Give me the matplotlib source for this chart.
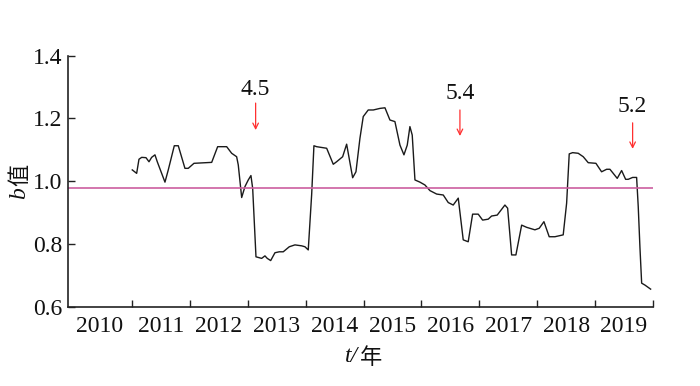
import matplotlib
matplotlib.use("Agg")
import matplotlib.pyplot as plt
import numpy as np

# ---- data ----
t_year = [2011.005, 2011.081, 2011.121, 2011.168, 2011.242, 2011.294, 2011.340, 2011.397,
          2011.437, 2011.570, 2011.627, 2011.731, 2011.800, 2011.915, 2011.972, 2012.071,
          2012.377, 2012.480, 2012.636, 2012.722, 2012.808, 2012.836, 2012.895, 2012.952,
          2013.009, 2013.055, 2013.085, 2013.142, 2013.240, 2013.297, 2013.337, 2013.396,
          2013.470, 2013.544, 2013.613, 2013.717, 2013.815, 2013.931, 2013.988, 2014.045,
          2014.104, 2014.143, 2014.190, 2014.363, 2014.477, 2014.535, 2014.639, 2014.708,
          2014.812, 2014.869, 2014.938, 2014.995, 2015.081, 2015.168, 2015.283, 2015.370,
          2015.456, 2015.542, 2015.629, 2015.698, 2015.755, 2015.801, 2015.841, 2015.888,
          2015.974, 2016.060, 2016.147, 2016.263, 2016.377, 2016.463, 2016.549, 2016.636,
          2016.722, 2016.808, 2016.884, 2016.981, 2017.057, 2017.154, 2017.212, 2017.309,
          2017.442, 2017.489, 2017.558, 2017.632, 2017.731, 2017.817, 2017.960, 2018.035,
          2018.116, 2018.207, 2018.306, 2018.449, 2018.508, 2018.553, 2018.611, 2018.708,
          2018.795, 2018.881, 2019.014, 2019.112, 2019.199, 2019.256, 2019.313, 2019.382,
          2019.458, 2019.527, 2019.572, 2019.648, 2019.717, 2019.745, 2019.774, 2019.804,
          2019.860, 2019.959]
b_value = [1.036, 1.025, 1.070, 1.076, 1.075, 1.062, 1.076, 1.084,
           1.062, 0.997, 1.036, 1.113, 1.113, 1.041, 1.041, 1.057,
           1.060, 1.110, 1.110, 1.089, 1.078, 1.052, 0.948, 0.983,
           1.004, 1.018, 0.977, 0.759, 0.754, 0.762, 0.754, 0.747,
           0.772, 0.775, 0.775, 0.791, 0.797, 0.794, 0.791, 0.781,
           0.958, 1.113, 1.110, 1.105, 1.054, 1.062, 1.078, 1.118,
           1.011, 1.030, 1.137, 1.206, 1.227, 1.227, 1.232, 1.234,
           1.195, 1.190, 1.115, 1.084, 1.115, 1.174, 1.147, 1.004,
           0.997, 0.988, 0.970, 0.959, 0.956, 0.932, 0.924, 0.946,
           0.813, 0.807, 0.895, 0.895, 0.876, 0.879, 0.889, 0.892,
           0.924, 0.914, 0.765, 0.765, 0.860, 0.853, 0.845, 0.850,
           0.871, 0.823, 0.823, 0.829, 0.930, 1.087, 1.091, 1.089,
           1.078, 1.059, 1.057, 1.030, 1.038, 1.038, 1.025, 1.009,
           1.034, 1.006, 1.006, 1.012, 1.012, 0.919, 0.791, 0.675,
           0.669, 0.656]
mean_b = 0.978

event_labels = ["4.5", "5.4", "5.2"]
event_x = [2013.136, 2016.665, 2019.648]
event_text_y = [1.291, 1.281, 1.237]
event_arrow_top = [1.249, 1.227, 1.186]
event_arrow_bot = [1.163, 1.144, 1.103]

year_labels = ["2010", "2011", "2012", "2013", "2014", "2015", "2016", "2017", "2018", "2019"]
year_bounds = [2011, 2012, 2013, 2014, 2015, 2016, 2017, 2018, 2019, 2020]
y_ticks = [0.6, 0.8, 1.0, 1.2, 1.4]

# ---- figure ----
serif = "Liberation Serif"
cjk = "Noto Sans CJK SC"
fs = 17

fig = plt.figure(figsize=(7.0, 3.86), dpi=100)
ax = fig.add_axes([68 / 700, 1 - 306.7 / 386, (653 - 68) / 700, (306.7 - 55.7) / 386])

x_left = 2009.895
ax.set_xlim(x_left, 2020)
ax.set_ylim(0.6, 1.4)

ax.plot(t_year, b_value, color="#1a1a1a", lw=1.0)
ax.axhline(mean_b, color="#cc5fa0", lw=1.2)

for lab, xe, ty, a0, a1 in zip(event_labels, event_x, event_text_y, event_arrow_top, event_arrow_bot):
    ax.text(xe, ty, lab, ha="center", va="center", fontsize=fs, family=serif, color="#111111")
    ax.annotate("", xy=(xe, a1), xytext=(xe, a0),
                arrowprops=dict(arrowstyle="->", color="#ff3030", lw=0.9,
                                mutation_scale=10, shrinkA=0, shrinkB=0))

for s in ["top", "right"]:
    ax.spines[s].set_visible(False)
for s in ["left", "bottom"]:
    ax.spines[s].set_linewidth(1.2)
    ax.spines[s].set_color("#222222")

ax.set_yticks(y_ticks)
ax.set_yticklabels([f"{v:.1f}" for v in y_ticks])
ax.tick_params(axis="y", direction="in", length=5, width=1.0, pad=4,
               labelsize=fs, colors="#222222")
for lbl in ax.get_yticklabels():
    lbl.set_family(serif)
    lbl.set_color("#111111")

ax.set_xticks(year_bounds)
ax.set_xticklabels([])
ax.tick_params(axis="x", which="major", direction="in", length=5, width=1.0, colors="#222222")
mids = [(x_left + 2011) / 2] + [y + 0.5 for y in year_bounds[:-1]]
ax.set_xticks(mids, minor=True)
ax.set_xticklabels(year_labels, minor=True)
ax.tick_params(axis="x", which="minor", length=0, pad=7, labelsize=fs)
for lbl in ax.get_xticklabels(minor=True):
    lbl.set_family(serif)
    lbl.set_color("#111111")

# axis labels (composed pieces)
fig.text(20 / 700, 1 - 193 / 386, "b", rotation=90, ha="center", va="center",
         fontsize=fs, family=serif, style="italic", color="#111111")
fig.text(20 / 700, 1 - 175 / 386, "值", rotation=90, ha="center", va="center",
         fontsize=fs - 1, family=cjk, color="#111111")
fig.text(352 / 700, 1 - 357 / 386, "t/", ha="center", va="center",
         fontsize=fs, family=serif, style="italic", color="#111111")
fig.text(371 / 700, 1 - 357 / 386, "年", ha="center", va="center",
         fontsize=fs - 1, family=cjk, color="#111111")

fig.savefig("out.png", dpi=100)
